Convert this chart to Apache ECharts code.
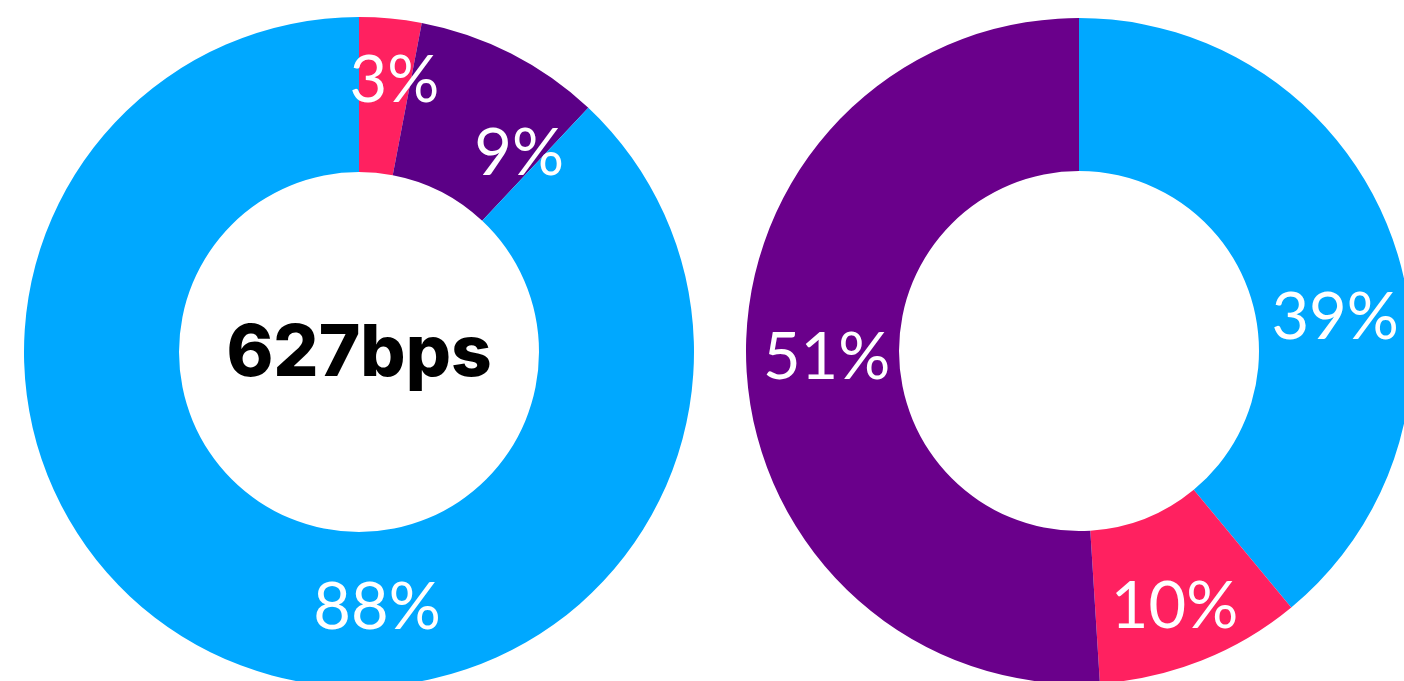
<!DOCTYPE html>
<html>
<head>
<meta charset="utf-8">
<script src="https://cdn.jsdelivr.net/npm/echarts@6/dist/echarts.min.js"></script>
<style>
  html, body { margin: 0; padding: 0; background: #ffffff; }
  #chart { width: 1404px; height: 681px; }
</style>
</head>
<body>
<div id="chart"></div>
<script>
// Left donut: share breakdown around the headline rate
const leftNames = ['Red', 'Purple', 'Blue'];
const leftValues = [3, 9, 88];
const leftColors = ['#ff2160', '#5b0086', '#00a8ff'];
const leftCenterText = '627bps';

// Right donut
const rightNames = ['Blue', 'Red', 'Purple'];
const rightValues = [39, 10, 51];
const rightColors = ['#00a8ff', '#ff2160', '#6a008b'];

// Label nudges (px) so each percentage sits clear of the slice edges
const leftLabelShift = [[11, -12], [42, 34], [114, 14]];
const rightLabelShift = [[12, 55], [0, 15], [7, -1]];

const labelFont = {
  color: '#ffffff',
  fontFamily: 'Lato, Inter, "Noto Sans", sans-serif',
  fontSize: 65,
  fontWeight: 400
};

function buildData(names, values, colors, shifts) {
  return names.map((n, i) => ({
    name: n,
    value: values[i],
    itemStyle: { color: colors[i] },
    label: { offset: shifts[i] }
  }));
}

function donut(center, outer, data) {
  return {
    type: 'pie',
    center: center,
    radius: [180, outer],
    startAngle: 90,
    clockwise: true,
    avoidLabelOverlap: false,
    silent: true,
    animation: false,
    itemStyle: { borderWidth: 0 },
    label: Object.assign({
      show: true,
      position: 'inside',
      formatter: '{c}%'
    }, labelFont),
    labelLine: { show: false },
    data: data
  };
}

const chart = echarts.init(document.getElementById('chart'), null, { renderer: 'canvas' });
chart.setOption({
  backgroundColor: '#ffffff',
  graphic: [{
    type: 'text',
    x: 359,
    y: 355,
    style: {
      text: leftCenterText,
      align: 'center',
      verticalAlign: 'middle',
      fill: '#000000',
      fontFamily: 'Inter, "Noto Sans", sans-serif',
      fontSize: 71,
      fontWeight: 800
    },
    z: 100
  }],
  series: [
    donut([359, 352], 335, buildData(leftNames, leftValues, leftColors, leftLabelShift)),
    donut([1079, 351], 333, buildData(rightNames, rightValues, rightColors, rightLabelShift))
  ]
});
</script>
</body>
</html>
